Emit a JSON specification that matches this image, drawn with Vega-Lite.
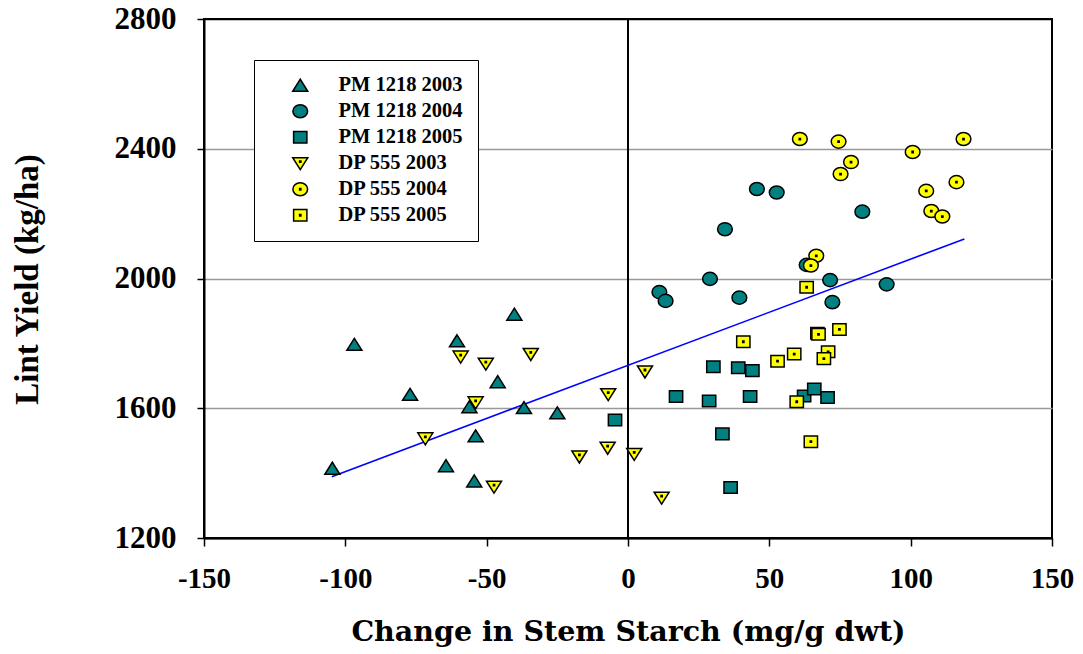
{
  "$schema": "https://vega.github.io/schema/vega-lite/v6.json",
  "width": 848,
  "height": 519,
  "autosize": {"type": "none"},
  "padding": {"left": 204, "top": 19, "right": 31, "bottom": 116},
  "background": "white",
  "config": {
    "view": {"stroke": "black", "strokeWidth": 2},
    "axis": {
      "labelFont": "Liberation Serif",
      "labelFontWeight": "bold",
      "labelFontSize": 29,
      "labelColor": "black",
      "labelFlush": false,
      "labelOverlap": false,
      "labelExpr": "'' + datum.value",
      "tickColor": "black",
      "tickWidth": 1.5,
      "domainColor": "black",
      "domainWidth": 2,
      "titleColor": "black",
      "titleFontWeight": "bold"
    }
  },
  "datasets": {
    "points": [
      {"series": "PM 1218 2003", "x": -104.6, "y": 1415},
      {"series": "PM 1218 2003", "x": -96.8, "y": 1797},
      {"series": "PM 1218 2003", "x": -77.1, "y": 1643},
      {"series": "PM 1218 2003", "x": -60.5, "y": 1808},
      {"series": "PM 1218 2003", "x": -40.2, "y": 1890},
      {"series": "PM 1218 2003", "x": -46.1, "y": 1682},
      {"series": "PM 1218 2003", "x": -56.1, "y": 1605},
      {"series": "PM 1218 2003", "x": -36.8, "y": 1602},
      {"series": "PM 1218 2003", "x": -25.0, "y": 1586},
      {"series": "PM 1218 2003", "x": -53.9, "y": 1515},
      {"series": "PM 1218 2003", "x": -64.4, "y": 1423},
      {"series": "PM 1218 2003", "x": -54.4, "y": 1376},
      {"series": "PM 1218 2004", "x": 11.1, "y": 1958},
      {"series": "PM 1218 2004", "x": 13.3, "y": 1931},
      {"series": "PM 1218 2004", "x": 29.0, "y": 1999},
      {"series": "PM 1218 2004", "x": 39.4, "y": 1941},
      {"series": "PM 1218 2004", "x": 34.3, "y": 2152},
      {"series": "PM 1218 2004", "x": 63.2, "y": 2042},
      {"series": "PM 1218 2004", "x": 71.5, "y": 1995},
      {"series": "PM 1218 2004", "x": 72.3, "y": 1927},
      {"series": "PM 1218 2004", "x": 82.9, "y": 2206},
      {"series": "PM 1218 2004", "x": 91.5, "y": 1982},
      {"series": "PM 1218 2004", "x": 45.6, "y": 2276},
      {"series": "PM 1218 2004", "x": 52.6, "y": 2265},
      {"series": "PM 1218 2005", "x": -4.6, "y": 1564},
      {"series": "PM 1218 2005", "x": 17.0, "y": 1636},
      {"series": "PM 1218 2005", "x": 28.7, "y": 1622},
      {"series": "PM 1218 2005", "x": 30.2, "y": 1728},
      {"series": "PM 1218 2005", "x": 39.0, "y": 1725},
      {"series": "PM 1218 2005", "x": 44.0, "y": 1716},
      {"series": "PM 1218 2005", "x": 43.2, "y": 1636},
      {"series": "PM 1218 2005", "x": 33.4, "y": 1521},
      {"series": "PM 1218 2005", "x": 36.3, "y": 1356},
      {"series": "PM 1218 2005", "x": 62.3, "y": 1638},
      {"series": "PM 1218 2005", "x": 65.9, "y": 1659},
      {"series": "PM 1218 2005", "x": 70.6, "y": 1633},
      {"series": "DP 555 2003", "x": -59.2, "y": 1759},
      {"series": "DP 555 2003", "x": -50.3, "y": 1737},
      {"series": "DP 555 2003", "x": -34.4, "y": 1767},
      {"series": "DP 555 2003", "x": -53.9, "y": 1618},
      {"series": "DP 555 2003", "x": -7.0, "y": 1643},
      {"series": "DP 555 2003", "x": -71.7, "y": 1507},
      {"series": "DP 555 2003", "x": -17.2, "y": 1451},
      {"series": "DP 555 2003", "x": -7.2, "y": 1478},
      {"series": "DP 555 2003", "x": 2.2, "y": 1459},
      {"series": "DP 555 2003", "x": -47.4, "y": 1358},
      {"series": "DP 555 2003", "x": 6.0, "y": 1713},
      {"series": "DP 555 2003", "x": 11.9, "y": 1324},
      {"series": "DP 555 2004", "x": 60.8, "y": 2430},
      {"series": "DP 555 2004", "x": 74.5, "y": 2422},
      {"series": "DP 555 2004", "x": 78.9, "y": 2359},
      {"series": "DP 555 2004", "x": 75.2, "y": 2322},
      {"series": "DP 555 2004", "x": 100.7, "y": 2390},
      {"series": "DP 555 2004", "x": 118.7, "y": 2430},
      {"series": "DP 555 2004", "x": 105.5, "y": 2270},
      {"series": "DP 555 2004", "x": 116.2, "y": 2297},
      {"series": "DP 555 2004", "x": 107.3, "y": 2208},
      {"series": "DP 555 2004", "x": 111.2, "y": 2191},
      {"series": "DP 555 2004", "x": 66.6, "y": 2070},
      {"series": "DP 555 2004", "x": 64.7, "y": 2040},
      {"series": "DP 555 2005", "x": 63.2, "y": 1973},
      {"series": "DP 555 2005", "x": 40.8, "y": 1805},
      {"series": "DP 555 2005", "x": 67.0, "y": 1831},
      {"series": "DP 555 2005", "x": 67.4, "y": 1828},
      {"series": "DP 555 2005", "x": 74.8, "y": 1843},
      {"series": "DP 555 2005", "x": 58.8, "y": 1767},
      {"series": "DP 555 2005", "x": 52.9, "y": 1745},
      {"series": "DP 555 2005", "x": 70.8, "y": 1774},
      {"series": "DP 555 2005", "x": 69.3, "y": 1753},
      {"series": "DP 555 2005", "x": 59.7, "y": 1620},
      {"series": "DP 555 2005", "x": 64.7, "y": 1497}
    ],
    "fit": [
      {"x": -104.8, "y": 1389},
      {"x": 119.0, "y": 2122}
    ],
    "zero": [
      {"x": 0}
    ]
  },
  "encoding": {
    "x": {
      "field": "x",
      "type": "quantitative",
      "scale": {"domain": [-150, 150], "nice": false, "zero": false},
      "axis": {
        "values": [-150, -100, -50, 0, 50, 100, 150],
        "grid": false,
        "tickSize": 8,
        "labelPadding": 18,
        "title": "Change in Stem Starch (mg/g dwt)",
        "titleFont": "DejaVu Serif",
        "titleFontSize": 28.5,
        "titleX": 424,
        "titleY": 102,
        "titleAlign": "center",
        "titleBaseline": "alphabetic"
      }
    },
    "y": {
      "field": "y",
      "type": "quantitative",
      "scale": {"domain": [1200, 2800], "nice": false, "zero": false},
      "axis": {
        "values": [1200, 1600, 2000, 2400, 2800],
        "grid": true,
        "gridColor": {"condition": {"test": "datum.value == 1200 || datum.value == 2800", "value": "black"}, "value": "#999999"},
        "gridWidth": 1.5,
        "tickSize": 7,
        "labelPadding": 21,
        "labelFontSize": 31,
        "title": "Lint Yield (kg/ha)",
        "titleFont": "Liberation Serif",
        "titleFontSize": 33,
        "titleAngle": -90,
        "titleX": -167,
        "titleY": 260,
        "titleAlign": "center",
        "titleBaseline": "alphabetic"
      }
    }
  },
  "layer": [
    {
      "data": {"name": "zero"},
      "mark": {"type": "rule", "color": "black", "strokeWidth": 2},
      "encoding": {"x": {"field": "x", "type": "quantitative"}, "y": null}
    },
    {
      "data": {"name": "fit"},
      "mark": {"type": "line", "color": "#0000FF", "strokeWidth": 1.6},
      "encoding": {}
    },
    {
      "data": {"name": "points"},
      "mark": {"type": "point", "filled": true, "stroke": "black", "strokeWidth": 1.5, "opacity": 1, "size": 256},
      "encoding": {
        "fill": {
          "field": "series",
          "type": "nominal",
          "scale": {
            "domain": ["PM 1218 2003", "PM 1218 2004", "PM 1218 2005", "DP 555 2003", "DP 555 2004", "DP 555 2005"],
            "range": ["#008080", "#008080", "#008080", "#FFFF00", "#FFFF00", "#FFFF00"]
          },
          "legend": {
            "title": null,
            "orient": "none",
            "legendX": 50,
            "legendY": 41,
            "padding": 15,
            "rowPadding": 5,
            "symbolSize": 256,
            "symbolOffset": 21,
            "labelOffset": 28,
            "labelFont": "Liberation Serif",
            "labelFontWeight": "bold",
            "labelFontSize": 20.5,
            "labelColor": "black",
            "labelLimit": 400,
            "strokeColor": "black",
            "fillColor": "white",
            "symbolStrokeColor": "black",
            "symbolStrokeWidth": 1.5,
            "symbolOpacity": 1,
            "encode": {
              "symbols": {
                "update": {
                  "stroke": {"value": "black"},
                  "strokeWidth": {"value": 1.5},
                  "opacity": {"value": 1}
                }
              }
            }
          }
        },
        "shape": {
          "field": "series",
          "type": "nominal",
          "scale": {
            "domain": ["PM 1218 2003", "PM 1218 2004", "PM 1218 2005", "DP 555 2003", "DP 555 2004", "DP 555 2005"],
            "range": [
              "M0,-0.75L0.94,0.75L-0.94,0.75Z",
              "M0.92,0C0.92,0.453,0.508,0.82,0,0.82C-0.508,0.82,-0.92,0.453,-0.92,0C-0.92,-0.453,-0.508,-0.82,0,-0.82C0.508,-0.82,0.92,-0.453,0.92,0Z",
              "M-0.83,-0.72L0.83,-0.72L0.83,0.72L-0.83,0.72Z",
              "M-0.94,-0.7L0.94,-0.7L0,0.8ZM-0.08,-0.28L0.08,-0.28L0.08,-0.12L-0.08,-0.12Z",
              "M0.92,0C0.92,0.453,0.508,0.82,0,0.82C-0.508,0.82,-0.92,0.453,-0.92,0C-0.92,-0.453,-0.508,-0.82,0,-0.82C0.508,-0.82,0.92,-0.453,0.92,0ZM-0.08,-0.08L0.08,-0.08L0.08,0.08L-0.08,0.08Z",
              "M-0.83,-0.72L0.83,-0.72L0.83,0.72L-0.83,0.72ZM-0.08,-0.08L0.08,-0.08L0.08,0.08L-0.08,0.08Z"
            ]
          },
          "legend": {
            "title": null,
            "orient": "none",
            "legendX": 50,
            "legendY": 41,
            "padding": 15,
            "rowPadding": 5,
            "symbolSize": 256,
            "symbolOffset": 21,
            "labelOffset": 28,
            "labelFont": "Liberation Serif",
            "labelFontWeight": "bold",
            "labelFontSize": 20.5,
            "labelColor": "black",
            "labelLimit": 400,
            "strokeColor": "black",
            "fillColor": "white",
            "symbolStrokeColor": "black",
            "symbolStrokeWidth": 1.5,
            "symbolOpacity": 1,
            "encode": {
              "symbols": {
                "update": {
                  "stroke": {"value": "black"},
                  "strokeWidth": {"value": 1.5},
                  "opacity": {"value": 1}
                }
              }
            }
          }
        }
      }
    }
  ]
}
